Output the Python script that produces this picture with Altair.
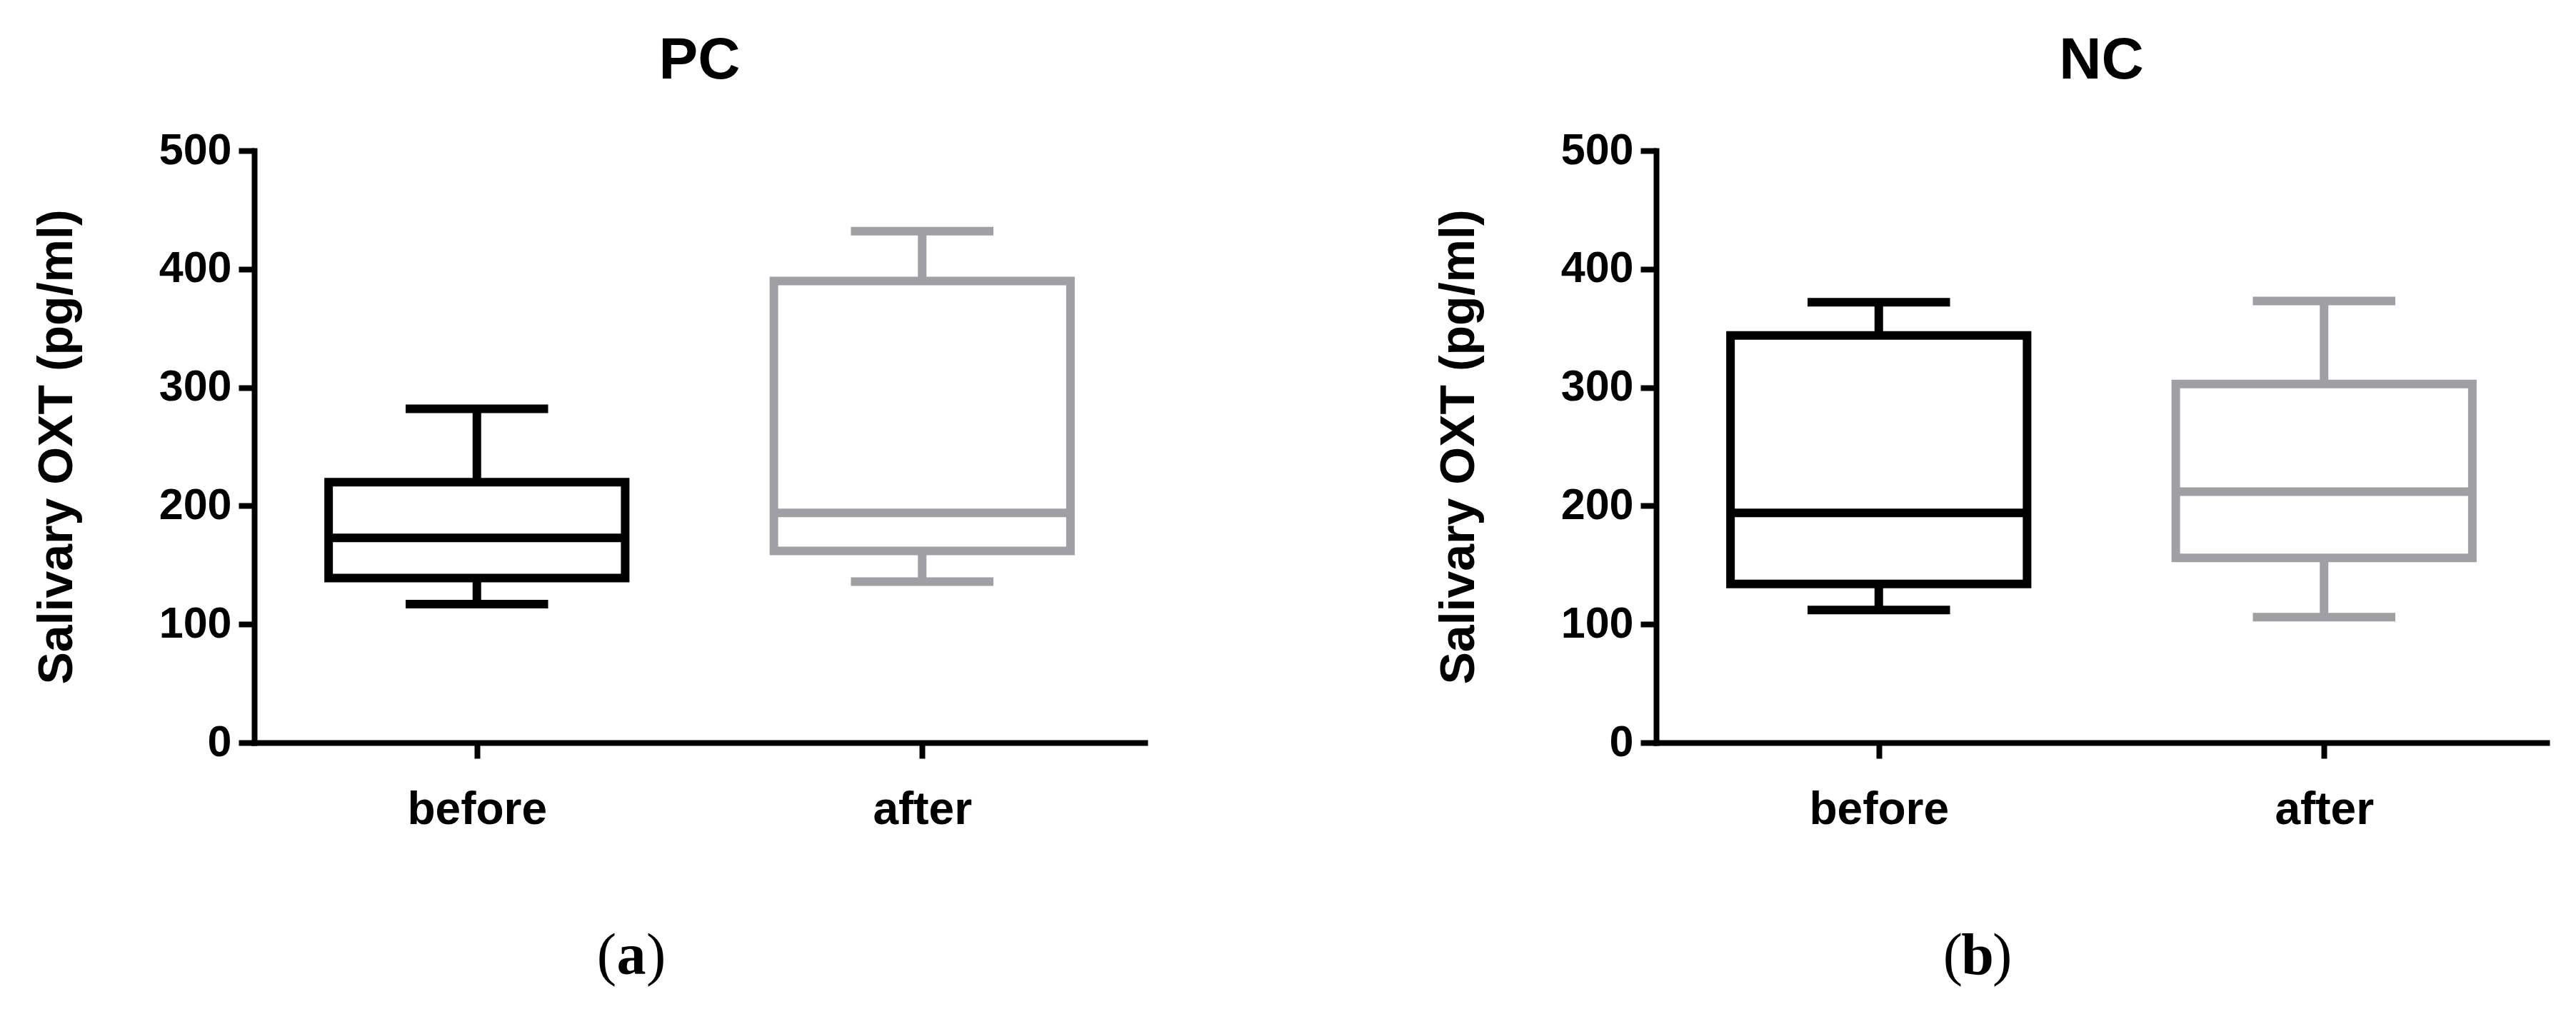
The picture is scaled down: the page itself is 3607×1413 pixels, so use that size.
import altair as alt
import pandas as pd

# ---- data ----
groups = ["PC", "NC"]
captions = ["a", "b"]
conditions = ["before", "after"]

panel = ["PC", "PC", "NC", "NC"]
condition = ["before", "after", "before", "after"]
lower = [117, 136, 112, 106]
q1 = [139, 162, 134, 156]
median = [173, 194, 194, 212]
q3 = [220, 390, 344, 303]
upper = [282, 432, 372, 373]

y_ticks = [0, 100, 200, 300, 400, 500]
y_title = "Salivary OXT (pg/ml)"

df = pd.DataFrame({
    "panel": panel, "condition": condition,
    "lower": lower, "q1": q1, "median": median, "q3": q3, "upper": upper,
})
df["pos"] = df["condition"].map({c: i + 1 for i, c in enumerate(conditions)})
cap_df = pd.DataFrame({"panel": groups, "caption": captions})

FONT = "Liberation Sans"
GRAY = "#A0A0A4"
LW = 12
W, H = 1247, 829

label_expr = " : ".join(
    [f"datum.value == {i + 1} ? '{c}'" for i, c in enumerate(conditions[:-1])]
    + [f"'{conditions[-1]}'"]
)

xscale = alt.Scale(domain=[0.5, 2.5], nice=False, zero=False)
yscale = alt.Scale(domain=[0, 500], nice=False)

xaxis = alt.Axis(values=[1, 2], labelExpr=label_expr, grid=False, title=None,
                 domainColor="black", domainWidth=8, domainCap="square",
                 tickColor="black", tickWidth=8, tickSize=22,
                 labelFont=FONT, labelFontWeight="bold", labelFontSize=64,
                 labelColor="black", labelPadding=40, labelFlush=False,
                 labelLimit=1000, labelOverlap=False)
yaxis = alt.Axis(values=y_ticks, grid=False, title=y_title,
                 domainColor="black", domainWidth=8, domainCap="square",
                 tickColor="black", tickWidth=8, tickSize=22,
                 labelFont=FONT, labelFontWeight="bold", labelFontSize=61,
                 labelColor="black", labelPadding=10, labelFlush=False,
                 labelOverlap=False, labelLimit=1000,
                 titleFont=FONT, titleFontWeight="bold", titleFontSize=68,
                 titleColor="black", titlePadding=108)

stroke = alt.Stroke("condition:N", scale=alt.Scale(domain=conditions, range=["#000000", GRAY]),
                    legend=None)


def X(field):
    return alt.X(field, type="quantitative", scale=xscale, axis=xaxis)


def Y(field):
    return alt.Y(field, type="quantitative", scale=yscale, axis=yaxis)


def make_panel(g, cap_x):
    base = (alt.Chart(df)
            .transform_filter(alt.datum.panel == g)
            .transform_calculate(bl="datum.pos - 0.333", br="datum.pos + 0.333",
                                 cl="datum.pos - 0.16", cr="datum.pos + 0.16"))
    w_up = base.mark_rule(strokeWidth=LW).encode(x=X("pos"), y=Y("q3"), y2="upper:Q", stroke=stroke)
    w_lo = base.mark_rule(strokeWidth=LW).encode(x=X("pos"), y=Y("lower"), y2="q1:Q", stroke=stroke)
    c_up = base.mark_rule(strokeWidth=LW).encode(x=X("cl"), x2="cr:Q", y=Y("upper"), stroke=stroke)
    c_lo = base.mark_rule(strokeWidth=LW).encode(x=X("cl"), x2="cr:Q", y=Y("lower"), stroke=stroke)
    box = base.mark_rect(fill="white", strokeWidth=LW, strokeJoin="miter").encode(
        x=X("bl"), x2="br:Q", y=Y("q1"), y2="q3:Q", stroke=stroke)
    med = base.mark_rule(strokeWidth=LW).encode(x=X("bl"), x2="br:Q", y=Y("median"), stroke=stroke)

    capbase = alt.Chart(cap_df).transform_filter(alt.datum.panel == g)
    cap_y = H + 324
    c_mid = capbase.mark_text(font="Liberation Serif", fontWeight="bold", fontSize=82,
                              baseline="alphabetic", align="center", color="black").encode(
        x=alt.value(cap_x), y=alt.value(cap_y), text="caption:N")
    c_l = capbase.mark_text(font="Liberation Serif", fontSize=82, baseline="alphabetic",
                            align="right", color="black").encode(
        x=alt.value(cap_x - 21), y=alt.value(cap_y), text=alt.value("("))
    c_r = capbase.mark_text(font="Liberation Serif", fontSize=82, baseline="alphabetic",
                            align="left", color="black").encode(
        x=alt.value(cap_x + 21), y=alt.value(cap_y), text=alt.value(")"))

    return alt.layer(w_up, w_lo, c_up, c_lo, box, med, c_mid, c_l, c_r).properties(
        width=W, height=H,
        title=alt.TitleParams(g, font=FONT, fontSize=82, fontWeight="bold", color="black",
                              anchor="middle", frame="group", offset=53),
    )


chart = alt.hconcat(
    make_panel("PC", 528),
    make_panel("NC", 450),
    spacing=716,
    bounds="flush",
).properties(
    padding={"left": 38, "top": 36, "right": 10, "bottom": 10},
).configure_view(stroke=None)

chart.save("out.html", embed_options={"renderer": "svg", "actions": False})
